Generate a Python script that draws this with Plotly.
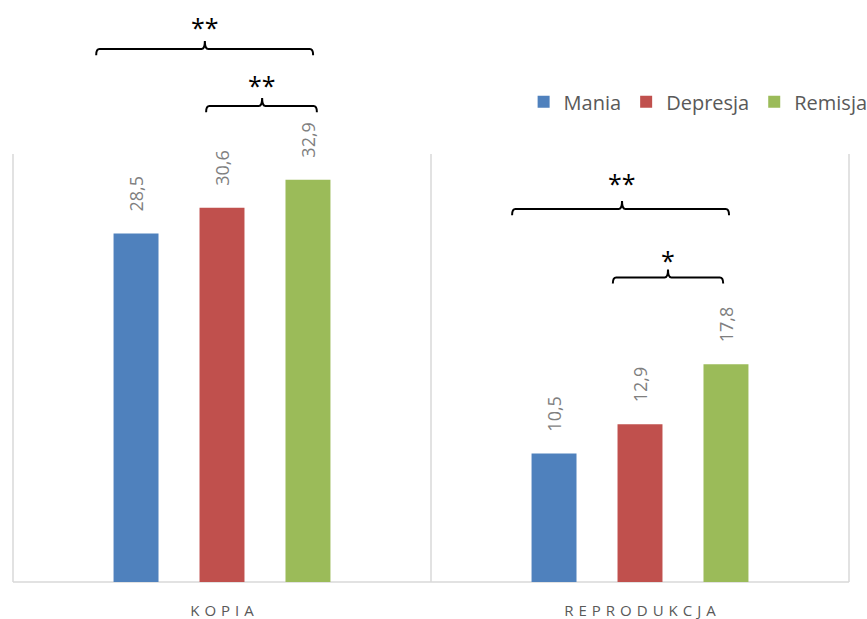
import plotly.graph_objects as go

# Data
categories = ["KOPIA", "REPRODUKCJA"]
series_names = ["Mania", "Depresja", "Remisja"]
series_values = {
    "Mania": [28.5, 10.5],
    "Depresja": [30.6, 12.9],
    "Remisja": [32.9, 17.8],
}
colors = {"Mania": "#4f81bd", "Depresja": "#c0504d", "Remisja": "#9bbb59"}

# Significance brackets: (left x, right x, tick x, line level, label level, label)
brackets = [
    (-0.301, 0.218, -0.041, 43.58, 45.79, "**"),
    (-0.038, 0.227, 0.096, 38.92, 41.05, "**"),
    (0.694, 1.213, 0.957, 30.50, 33.04, "**"),
    (0.935, 1.199, 1.067, 24.90, 26.74, "*"),
]

BARGAP = 0.383
BARGROUPGAP = 0.477
FONT = "Open Sans"
x_pos = list(range(len(categories)))

fig = go.Figure()
for name in series_names:
    fig.add_trace(go.Bar(
        name=name,
        x=x_pos,
        y=series_values[name],
        marker=dict(color=colors[name], line=dict(width=0)),
    ))

# Rotated value labels above each bar
slot = (1 - BARGAP) / len(series_names)
annotations = []
for i, name in enumerate(series_names):
    off = (i - (len(series_names) - 1) / 2) * slot
    for xc, v in zip(x_pos, series_values[name]):
        annotations.append(dict(
            x=xc + off, y=v, xref="x", yref="y",
            text=f"{v:.1f}".replace(".", ","),
            textangle=-90, showarrow=False,
            yanchor="middle", xanchor="center", yshift=40,
            font=dict(family=FONT, size=18, color="#7f7f7f"),
        ))

shapes = []
# Category separators
for xs in [-0.5, 0.5, 1.5]:
    shapes.append(dict(type="line", xref="x", yref="y", x0=xs, x1=xs, y0=0, y1=35,
                       line=dict(color="#d9d9d9", width=1.5), layer="below"))
# Baseline
shapes.append(dict(type="line", xref="x", yref="y", x0=-0.5, x1=1.5, y0=0, y1=0,
                   line=dict(color="#d9d9d9", width=1.5), layer="below"))

# Brackets with rounded ends and a central tick
rx, tip, peak = 0.008, 0.5, 0.65
for x0, x1, xc, yl, ylab, lab in brackets:
    path = (f"M {x0},{yl - tip} Q {x0},{yl} {x0 + rx},{yl} "
            f"L {xc - rx},{yl} Q {xc},{yl} {xc},{yl + peak} "
            f"Q {xc},{yl} {xc + rx},{yl} L {x1 - rx},{yl} "
            f"Q {x1},{yl} {x1},{yl - tip}")
    shapes.append(dict(type="path", xref="x", yref="y", path=path,
                       line=dict(color="black", width=2)))
    annotations.append(dict(
        x=xc, y=ylab, xref="x", yref="y", text=lab, showarrow=False,
        yanchor="middle", xanchor="center", yshift=-5,
        font=dict(family=FONT, size=25, color="black"),
    ))

px_per_unit_x = 418.0
px_per_unit_y = 12.229
fig.update_layout(
    width=867, height=619,
    margin=dict(l=10, r=15, t=0, b=34, autoexpand=False),
    paper_bgcolor="white", plot_bgcolor="white",
    barmode="group", bargap=BARGAP, bargroupgap=BARGROUPGAP,
    showlegend=True,
    legend=dict(orientation="h", x=0.610, y=0.826, xanchor="left", yanchor="middle",
                font=dict(family=FONT, size=20, color="#595959"),
                itemwidth=30,
                bgcolor="rgba(0,0,0,0)", traceorder="normal"),
    xaxis=dict(
        range=[-0.5 - 3 / px_per_unit_x, 1.5 + 3 / px_per_unit_x],
        tickvals=x_pos,
        ticktext=["\u2004".join(c) for c in categories],
        showgrid=False, zeroline=False, showline=False, ticks="",
        ticklabelstandoff=15, automargin=False,
        tickfont=dict(family=FONT, size=15, color="#595959"),
    ),
    yaxis=dict(
        range=[-3 / px_per_unit_y, 582 / px_per_unit_y],
        visible=False,
    ),
    shapes=shapes,
    annotations=annotations,
    font=dict(family=FONT),
)

fig.write_html("out.html")
